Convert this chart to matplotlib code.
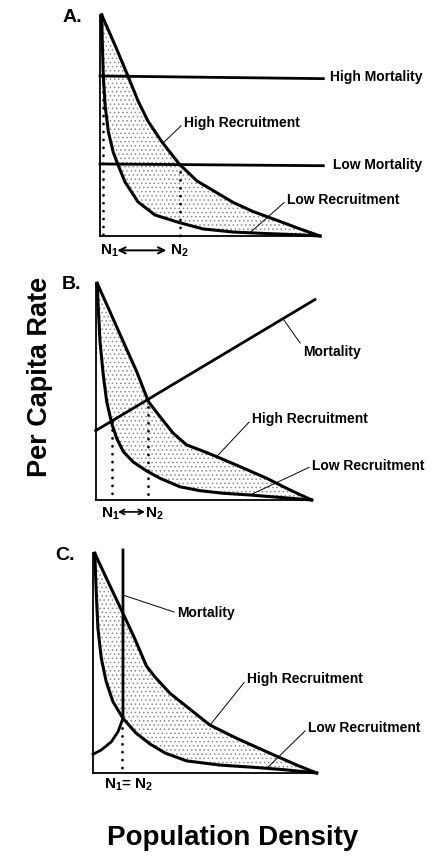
import numpy as np
import matplotlib
matplotlib.use('Agg')
import matplotlib.pyplot as plt
from matplotlib.transforms import blended_transform_factory

plt.rcParams['font.family'] = ['Liberation Sans', 'DejaVu Sans']
plt.rcParams['font.weight'] = 'bold'
plt.rcParams['mathtext.fontset'] = 'custom'
plt.rcParams['mathtext.rm'] = 'Liberation Sans:bold'
plt.rcParams['mathtext.bf'] = 'Liberation Sans:bold'
plt.rcParams['mathtext.it'] = 'Liberation Sans:bold'
plt.rcParams['hatch.linewidth'] = 0.6

# ---------------- data (arbitrary units: density 0-100, rate 0-100) ----------------
# Panel A
a_high_x = [0.8, 6.8, 12.7, 17.3, 21.8, 28.2, 36.0, 44.1, 53.2, 60.5, 69.5, 81.8, 90.9, 100]
a_high_y = [100, 86.4, 72.4, 61.1, 52.0, 42.5, 32.6, 24.9, 19.5, 15.2, 11.1, 6.6, 3.2, 0]
a_low_x = [0.8, 1.0, 1.5, 2.3, 3.8, 6.0, 8.0, 11.4, 17.3, 25.0, 35.9, 46.8, 60.5, 75.9, 90.9, 100]
a_low_y = [100, 89.6, 72.4, 59.3, 47.1, 38.0, 32.6, 24.4, 15.4, 9.5, 6.1, 3.2, 1.8, 1.1, 0.5, 0]
a_mort_x = [0, 101.5]
a_high_mort_y = [72.4, 71.2]
a_low_mort_y = [32.6, 31.8]
a_n = [1.5, 36.5]
a_n_top = [72.4, 32.6]

# Panel B
b_high_x = [0.7, 6.6, 12.8, 19.0, 24.4, 29.8, 35.9, 42.1, 48.3, 56.0, 66.8, 79.2, 90.0, 100]
b_high_y = [100, 86.9, 73.0, 59.2, 45.4, 38.4, 30.8, 25.4, 23.1, 20.0, 15.4, 10.0, 4.6, 0]
b_low_x = [0.7, 1.2, 2.0, 3.5, 5.1, 7.4, 9.7, 12.8, 17.4, 23.6, 29.8, 39.0, 48.3, 59.1, 71.5, 85.3, 100]
b_low_y = [100, 88.5, 73.0, 57.7, 45.4, 35.4, 28.5, 22.3, 17.5, 13.4, 10.0, 6.1, 4.3, 3.1, 2.3, 1.2, 0]
b_mort_x = [0, 101.5]
b_mort_y = [32.0, 92.5]
b_n = [7.4, 24.4]
b_n_top = [36.2, 46.4]

# Panel C
c_high_x = [0.8, 6.7, 13.4, 18.6, 23.9, 27.7, 34.4, 41.9, 52.3, 64.2, 79.1, 91.1, 100]
c_high_y = [100, 87.1, 72.7, 61.3, 48.7, 43.7, 36.3, 30.2, 21.8, 15.8, 9.0, 3.6, 0]
c_low_x = [0.8, 1.5, 2.2, 3.7, 5.9, 8.9, 13.4, 19.2, 25.5, 32.2, 41.9, 56.8, 71.7, 86.6, 100]
c_low_y = [100, 81.0, 65.9, 52.2, 41.6, 32.5, 24.9, 18.2, 13.2, 9.1, 5.5, 3.6, 2.6, 1.4, 0]
c_mort_x = [0, 3.7, 8.2, 11.2, 13.4, 13.4]
c_mort_y = [8.5, 10.5, 14.2, 18.8, 24.9, 101.5]
c_n = [13.0]
c_n_top = [24.0]

W, H = 435, 857
fig = plt.figure(figsize=(W / 100, H / 100), dpi=100)
fig.patch.set_facecolor('white')


def fx(px):
    return px / W


def fy(py):
    return 1 - py / H


def make_ax(left, bottom, right, top):
    ax = fig.add_axes([fx(left), fy(bottom), (right - left) / W, (bottom - top) / H])
    ax.set_xlim(0, 100)
    ax.set_ylim(0, 100)
    ax.set_xticks([])
    ax.set_yticks([])
    for s in ['top', 'right']:
        ax.spines[s].set_visible(False)
    for s in ['left', 'bottom']:
        ax.spines[s].set_linewidth(1.3)
    ax.patch.set_alpha(0)
    return ax


CURVE_LW = 2.2
DOT_STYLE = dict(color='black', lw=2.0, linestyle=(0, (0.05, 2.8)), dash_capstyle='round',
                 clip_on=False)


def recruitment(ax, hx, hy, lx, ly):
    px = np.concatenate([hx, lx[::-1]])
    py = np.concatenate([hy, ly[::-1]])
    ax.fill(px, py, facecolor='none', edgecolor='#8a8a8a', hatch='....', linewidth=0)
    ax.plot(hx, hy, color='black', lw=CURVE_LW, clip_on=False, solid_joinstyle='round')
    ax.plot(lx, ly, color='black', lw=CURVE_LW, clip_on=False, solid_joinstyle='round')


def leader(ax, text, xy, tx, ty, rel=(0, 0.5)):
    ax.annotate(text, xy=xy, xycoords='data', xytext=(fx(tx), fy(ty)),
                textcoords='figure fraction', ha='left', va='center', fontsize=10,
                arrowprops=dict(arrowstyle='-', lw=0.7, color='black', shrinkA=0,
                                shrinkB=0, relpos=rel))


# ---------------- Panel A ----------------
axA = make_ax(100, 236, 320, 15)
recruitment(axA, a_high_x, a_high_y, a_low_x, a_low_y)
axA.plot(a_mort_x, a_high_mort_y, color='black', lw=2.0, clip_on=False)
axA.plot(a_mort_x, a_low_mort_y, color='black', lw=2.0, clip_on=False)
for n, t in zip(a_n, a_n_top):
    axA.plot([n, n], [t, 0], **DOT_STYLE)
fig.text(fx(63), fy(18), 'A.', fontsize=14, ha='left', va='center')
fig.text(fx(330), fy(77), 'High Mortality', fontsize=10, ha='left', va='center')
fig.text(fx(333), fy(165), 'Low Mortality', fontsize=10, ha='left', va='center')
leader(axA, 'High Recruitment', (28.6, 42.0), 184, 123)
leader(axA, 'Low Recruitment', (68.2, 1.5), 287, 200)
trA = blended_transform_factory(axA.transData, axA.transAxes)
axA.annotate('', xy=(a_n[1], -0.065), xytext=(a_n[0], -0.065), xycoords=trA,
             arrowprops=dict(arrowstyle='<->,head_length=0.45,head_width=0.22', lw=1.4,
                             color='black', shrinkA=10, shrinkB=10))
fig.text(fx(100), fy(251), 'N$_1$', fontsize=11, ha='left', va='center')
fig.text(fx(170), fy(251), 'N$_2$', fontsize=11, ha='left', va='center')

# ---------------- Panel B ----------------
axB = make_ax(95.7, 500, 311.7, 283.3)
recruitment(axB, b_high_x, b_high_y, b_low_x, b_low_y)
axB.plot(b_mort_x, b_mort_y, color='black', lw=2.0, clip_on=False)
for n, t in zip(b_n, b_n_top):
    axB.plot([n, n], [t, 0], **DOT_STYLE)
fig.text(fx(62), fy(285), 'B.', fontsize=14, ha='left', va='center')
leader(axB, 'Mortality', (86.9, 83.4), 303, 352, rel=(0, 0.85))
leader(axB, 'High Recruitment', (56.0, 20.0), 252, 419)
leader(axB, 'Low Recruitment', (71.5, 2.3), 312, 466)
trB = blended_transform_factory(axB.transData, axB.transAxes)
axB.annotate('', xy=(b_n[1], -0.055), xytext=(b_n[0], -0.055), xycoords=trB,
             arrowprops=dict(arrowstyle='<->,head_length=0.35,head_width=0.18', lw=1.2,
                             color='black', shrinkA=4.5, shrinkB=2.5))
fig.text(fx(101), fy(514), 'N$_1$', fontsize=11, ha='left', va='center')
fig.text(fx(145), fy(514), 'N$_2$', fontsize=11, ha='left', va='center')

# ---------------- Panel C ----------------
axC = make_ax(93, 773, 316.7, 553.3)
recruitment(axC, c_high_x, c_high_y, c_low_x, c_low_y)
axC.plot(c_mort_x, c_mort_y, color='black', lw=2.0, clip_on=False, solid_joinstyle='round')
for n, t in zip(c_n, c_n_top):
    axC.plot([n, n], [t, 0], **DOT_STYLE)
fig.text(fx(55), fy(555), 'C.', fontsize=14, ha='left', va='center')
leader(axC, 'Mortality', (13.4, 81.0), 177, 613)
leader(axC, 'High Recruitment', (52.3, 21.8), 247, 679)
leader(axC, 'Low Recruitment', (77.6, 2.0), 308, 728)
fig.text(fx(104), fy(785), 'N$_1$= N$_2$', fontsize=11, ha='left', va='center')

# ---------------- axis titles ----------------
fig.text(fx(233), fy(838), 'Population Density', fontsize=20, ha='center', va='center')
fig.text(fx(40), fy(377), 'Per Capita Rate', fontsize=19.5, ha='center', va='center',
         rotation=90)

fig.savefig('out.png', dpi=100, facecolor='white')
